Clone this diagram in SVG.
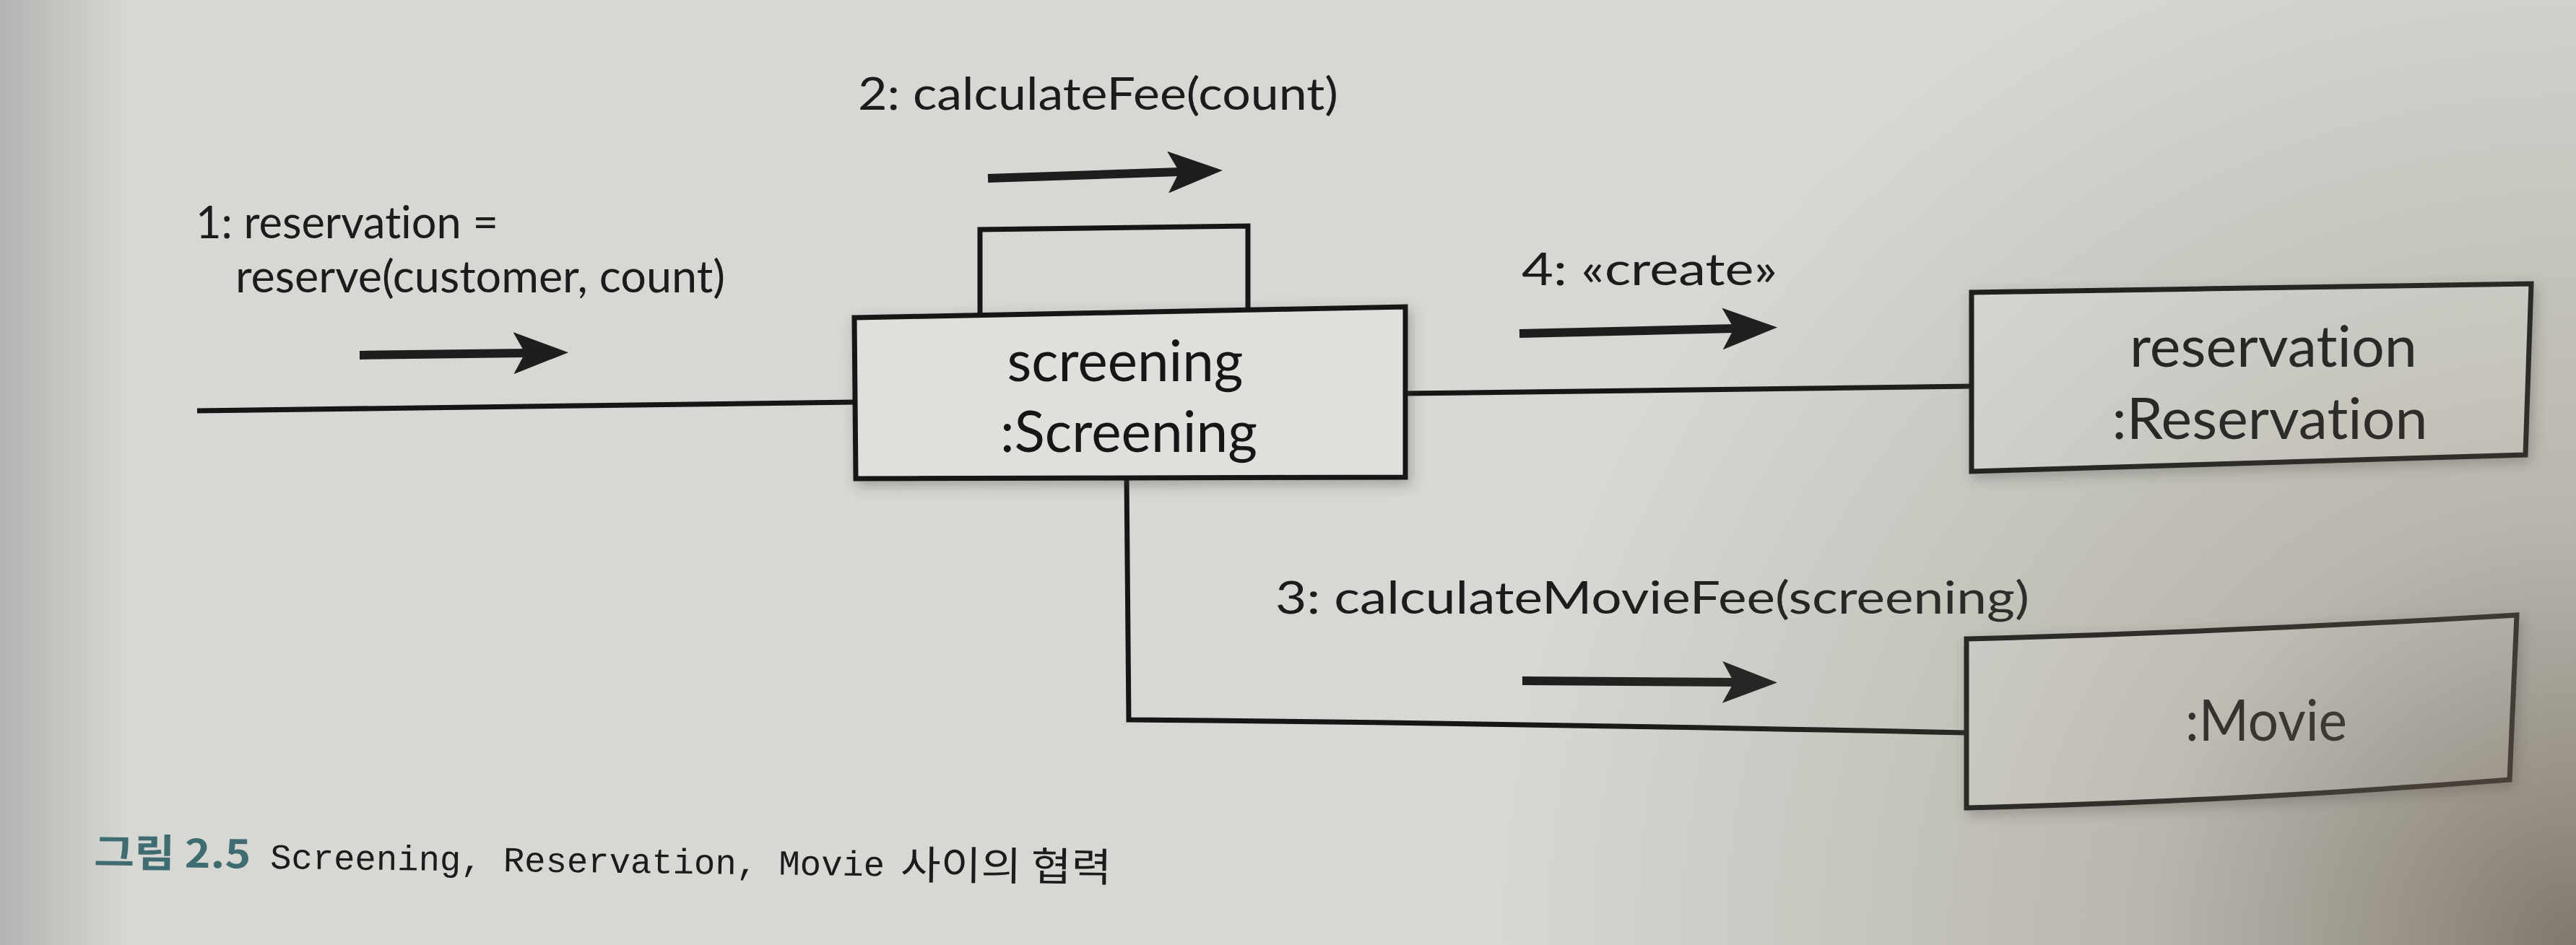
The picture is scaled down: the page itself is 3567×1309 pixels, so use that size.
<svg xmlns="http://www.w3.org/2000/svg" width="3567" height="1309" viewBox="0 0 3567 1309">
  <style>
    .lbl { font-family: Lato, "Noto Sans", sans-serif; font-size: 62px; fill: #1c1c1c; font-variant-ligatures: none; font-feature-settings: "liga" 0, "clig" 0; }
    .name { font-family: Lato, "Noto Sans", sans-serif; font-size: 80px; fill: #161616; text-anchor: middle; font-variant-ligatures: none; font-feature-settings: "liga" 0, "clig" 0; }
    .box { fill: #dfe0dc; stroke: #161616; stroke-width: 7; stroke-linejoin: miter; filter: url(#sh); }
    .conn { fill: none; stroke: #161616; stroke-width: 7; }
    .msg { stroke: #1e1e1e; stroke-width: 12; fill: none; marker-end: url(#head); }
    .cap-num { font-family: "Noto Sans CJK KR", "Noto Sans", sans-serif; font-weight: bold; font-size: 54px; fill: #3e6c70; }
    .cap-mono { font-family: "Liberation Mono", "DejaVu Sans Mono", monospace; font-size: 49px; fill: #1c1c1c; }
    .cap-kr { font-family: "Noto Sans CJK KR", "Noto Sans", sans-serif; font-size: 55px; fill: #1c1c1c; }
  </style>
  <defs>
    <marker id="head" viewBox="0 0 76 58" refX="16" refY="29" markerWidth="76" markerHeight="58" markerUnits="userSpaceOnUse" orient="auto">
      <path d="M0,0 L76,29 L0,58 L16,29 Z" fill="#1e1e1e"/>
    </marker>
    <filter id="sh" x="-10%" y="-20%" width="120%" height="140%">
      <feDropShadow dx="4" dy="7" stdDeviation="9" flood-color="#3a3a3a" flood-opacity="0.35"/>
    </filter>
    <radialGradient id="vig" cx="3567" cy="1309" r="1500" gradientUnits="userSpaceOnUse">
      <stop offset="0" stop-color="#65584a" stop-opacity="0.75"/>
      <stop offset="0.4" stop-color="#776e5e" stop-opacity="0.32"/>
      <stop offset="1" stop-color="#7a7262" stop-opacity="0"/>
    </radialGradient>
    <linearGradient id="leftEdge" x1="0" y1="0" x2="1" y2="0">
      <stop offset="0" stop-color="#6c7272" stop-opacity="0.35"/>
      <stop offset="1" stop-color="#6c7272" stop-opacity="0"/>
    </linearGradient>
  </defs>

  <rect id="paper" x="0" y="0" width="3567" height="1309" fill="#d7d8d3"/>
  <rect x="0" y="0" width="180" height="1309" fill="url(#leftEdge)"/>

  <g id="connectors">
    <line class="conn" x1="273" y1="569" x2="1183" y2="557"/>
    <path class="conn" d="M1357,434 L1357,318 L1728,313 L1728,428"/>
    <line class="conn" x1="1946" y1="545" x2="2730" y2="535"/>
    <path class="conn" d="M1560,662 L1563,997 Q2100,1002 2723,1015"/>
  </g>

  <g id="messages">
    <g id="msg1">
      <text class="lbl" x="271" y="330" textLength="419" lengthAdjust="spacingAndGlyphs">1: reservation =</text>
      <text class="lbl" x="326" y="405" textLength="678" lengthAdjust="spacingAndGlyphs">reserve(customer, count)</text>
      <line class="msg" x1="498" y1="492" x2="727" y2="489"/>
    </g>
    <g id="msg2">
      <text class="lbl" x="1188" y="152" textLength="665" lengthAdjust="spacingAndGlyphs">2: calculateFee(count)</text>
      <line class="msg" x1="1368" y1="247" x2="1633" y2="238"/>
    </g>
    <g id="msg3">
      <text class="lbl" x="1766" y="850" textLength="1044" lengthAdjust="spacingAndGlyphs">3: calculateMovieFee(screening)</text>
      <line class="msg" x1="2108" y1="943" x2="2401" y2="945"/>
    </g>
    <g id="msg4">
      <text class="lbl" x="2107" y="395" textLength="354" lengthAdjust="spacingAndGlyphs">4: «create»</text>
      <line class="msg" x1="2104" y1="462" x2="2401" y2="455"/>
    </g>
  </g>

  <g id="screening">
    <path class="box" d="M1183,440 L1946,425 L1946,661 L1185,663 Z"/>
    <text class="name" x="1558" y="528" textLength="327" lengthAdjust="spacingAndGlyphs">screening</text>
    <text class="name" x="1563" y="626" textLength="356" lengthAdjust="spacingAndGlyphs">:Screening</text>
  </g>

  <g id="reservation">
    <path class="box" d="M2730,405 L3505,393 L3497,630 L2730,653 Z"/>
    <text class="name" x="3148" y="508" textLength="398" lengthAdjust="spacingAndGlyphs">reservation</text>
    <text class="name" x="3143" y="608" textLength="437" lengthAdjust="spacingAndGlyphs">:Reservation</text>
  </g>

  <g id="movie">
    <path class="box" d="M2723,885 Q3100,875 3485,852 L3475,1080 Q3100,1110 2723,1119 Z"/>
    <text class="name" x="3138" y="1026" textLength="224" lengthAdjust="spacingAndGlyphs">:Movie</text>
  </g>

  <g id="caption" transform="rotate(0.7 130 1200)">
    <text class="cap-num" x="130" y="1200" textLength="217" lengthAdjust="spacingAndGlyphs">그림 2.5</text>
    <text class="cap-mono" x="374" y="1200" textLength="851" lengthAdjust="spacingAndGlyphs">Screening, Reservation, Movie</text>
    <text class="cap-kr" x="1247" y="1204" textLength="292" lengthAdjust="spacingAndGlyphs">사이의 협력</text>
  </g>

  <rect x="0" y="0" width="3567" height="1309" fill="url(#vig)" pointer-events="none"/>
</svg>
